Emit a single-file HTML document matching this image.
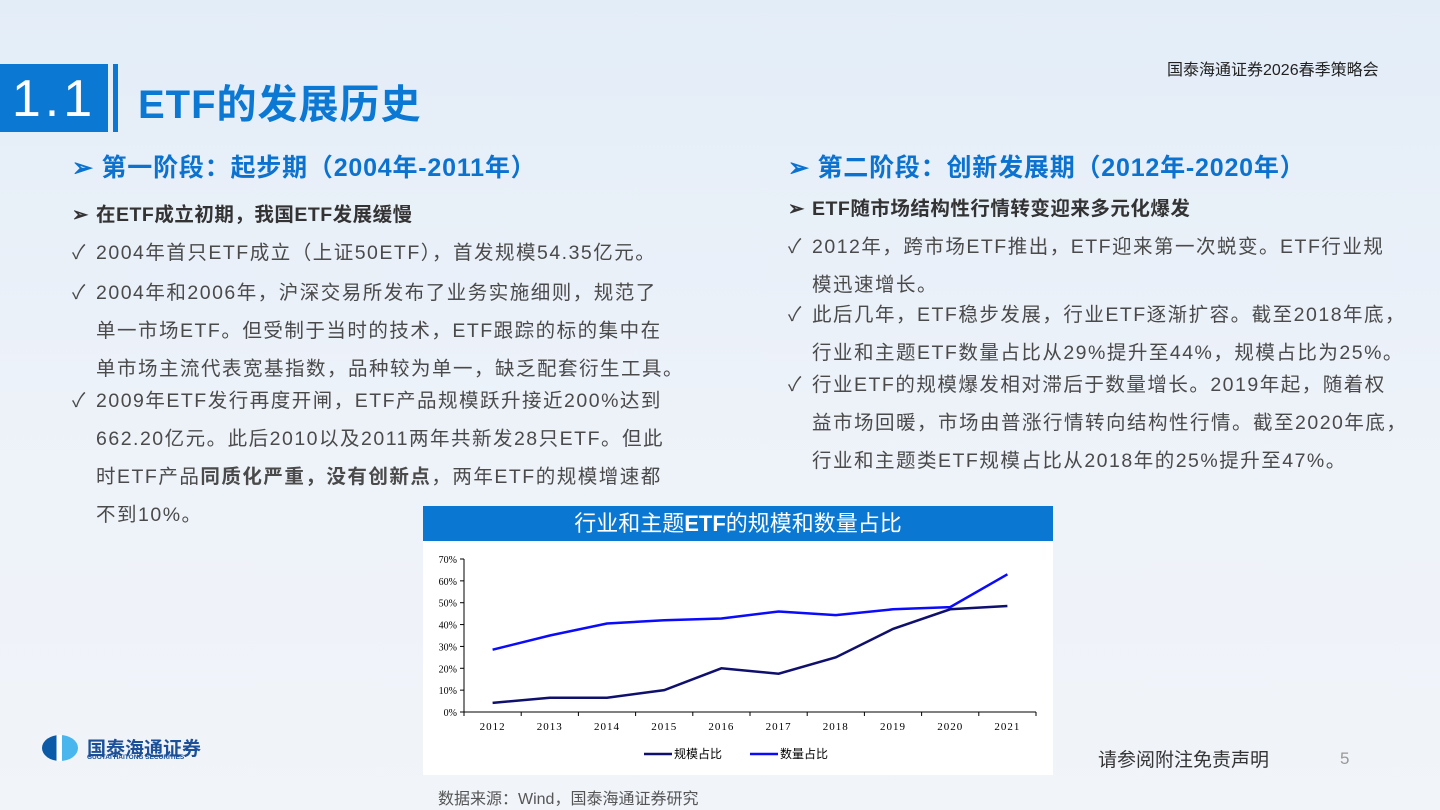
<!DOCTYPE html>
<html><head><meta charset="utf-8">
<style>
body{margin:0;width:1440px;height:810px;overflow:hidden;background:linear-gradient(180deg,#e3edf8 0%,#edf2f9 50%,#f1f4f9 100%);font-family:"Liberation Sans","Noto Sans CJK SC",sans-serif;position:relative;}
.a{position:absolute;white-space:nowrap;}
.t{font-size:19.5px;color:#4a4a4a;letter-spacing:1.5px;}
.b{font-weight:bold;color:#333;letter-spacing:0.5px;}
.h{font-size:25px;font-weight:bold;color:#0b72d0;letter-spacing:0.8px;}
.i{display:inline-block;width:24px;letter-spacing:0}
</style></head><body>
<div class="a" style="left:1167px;top:56px;font-size:16px;color:#222">国泰海通证券2026春季策略会</div>
<div class="a" style="left:0;top:64px;width:108px;height:68px;background:#0b78d4;color:#fff;font-size:52px;line-height:70px;text-align:center;letter-spacing:4px">1.1</div>
<div class="a" style="left:113px;top:64px;width:5px;height:68px;background:#0b78d4"></div>
<div class="a" style="left:138px;top:72px;font-size:40px;font-weight:bold;color:#0b78d4;letter-spacing:1px">ETF的发展历史</div>

<div class="a h" style="left:72px;top:148px">➢ 第一阶段：起步期（2004年-2011年）</div>
<div class="a t b" style="left:72px;top:198px"><span class="i">➢</span>在ETF成立初期，我国ETF发展缓慢</div>
<div class="a t" style="left:72px;top:236px"><span class="i">✓</span>2004年首只ETF成立（上证50ETF），首发规模54.35亿元。</div>
<div class="a t" style="left:72px;top:274px;line-height:38px"><span class="i">✓</span>2004年和2006年，沪深交易所发布了业务实施细则，规范了<br><span class="i"></span>单一市场ETF。但受制于当时的技术，ETF跟踪的标的集中在<br><span class="i"></span>单市场主流代表宽基指数，品种较为单一，缺乏配套衍生工具。</div>
<div class="a t" style="left:72px;top:382px;line-height:38px"><span class="i">✓</span>2009年ETF发行再度开闸，ETF产品规模跃升接近200%达到<br><span class="i"></span>662.20亿元。此后2010以及2011两年共新发28只ETF。但此<br><span class="i"></span>时ETF产品<b>同质化严重，没有创新点</b>，两年ETF的规模增速都<br><span class="i"></span>不到10%。</div>

<div class="a h" style="left:788px;top:148px">➢ 第二阶段：创新发展期（2012年-2020年）</div>
<div class="a t b" style="left:788px;top:192px"><span class="i">➢</span>ETF随市场结构性行情转变迎来多元化爆发</div>
<div class="a t" style="left:788px;top:228px;line-height:38px"><span class="i">✓</span>2012年，跨市场ETF推出，ETF迎来第一次蜕变。ETF行业规<br><span class="i"></span>模迅速增长。</div>
<div class="a t" style="left:788px;top:296px;line-height:38px"><span class="i">✓</span>此后几年，ETF稳步发展，行业ETF逐渐扩容。截至2018年底，<br><span class="i"></span>行业和主题ETF数量占比从29%提升至44%，规模占比为25%。</div>
<div class="a t" style="left:788px;top:366px;line-height:38px"><span class="i">✓</span>行业ETF的规模爆发相对滞后于数量增长。2019年起，随着权<br><span class="i"></span>益市场回暖，市场由普涨行情转向结构性行情。截至2020年底，<br><span class="i"></span>行业和主题类ETF规模占比从2018年的25%提升至47%。</div>

<div class="a" style="left:423px;top:506px;width:630px;height:35px;background:#0a78d2;color:#fff;font-size:22px;line-height:35px;text-align:center">行业和主题<b>ETF</b>的规模和数量占比</div>
<div class="a" style="left:423px;top:541px;width:630px;height:234px;background:#fff"></div>
<svg class="a" style="left:0;top:0" width="1440" height="810" id="ch"></svg>
<div class="a" style="left:438px;top:785px;font-size:16px;color:#555">数据来源：Wind，国泰海通证券研究</div>

<div class="a" style="left:42px;top:735px;width:36px;height:26px;border-radius:50%;background:linear-gradient(90deg,#0a5aa8 0 40%,#fff 40% 55%,#4ab6ee 55%)"></div>
<div class="a" style="left:87px;top:734px;font-size:19px;font-weight:bold;color:#1b4f98">国泰海通证券</div>
<div class="a" style="left:87px;top:754px;font-size:6.5px;font-weight:bold;color:#1b4f98">GUOTAI HAITONG SECURITIES</div>
<div class="a" style="left:1098px;top:745px;font-size:19px;color:#333">请参阅附注免责声明</div>
<div class="a" style="left:1340px;top:749px;font-size:17px;color:#999">5</div>

<script>
const categories=["2012","2013","2014","2015","2016","2017","2018","2019","2020","2021"];
const scaleShare=[4.2,6.5,6.5,10,20,17.5,25,38,47,48.5];
const countShare=[28.5,35,40.5,42,42.8,46,44.3,47,48,63];
const yTicks=[0,10,20,30,40,50,60,70];
const svg=document.getElementById('ch');
const NS='http://www.w3.org/2000/svg';
const x0=464,x1=1036,y0=712,y70=559;
const band=(x1-x0)/categories.length;
const X=i=>x0+band*(i+0.5);
const Y=v=>y0-(v/70)*(y0-y70);
function mk(t,a){const e=document.createElementNS(NS,t);for(const k in a)e.setAttribute(k,a[k]);svg.appendChild(e);return e;}
let e=mk('line',{x1:x0,y1:y70,x2:x0,y2:y0,stroke:'#000','stroke-width':1});

e=mk('line',{x1:x0,y1:y0,x2:x1,y2:y0,stroke:'#000','stroke-width':1});

yTicks.forEach(v=>{
 mk('line',{x1:x0-4,y1:Y(v),x2:x0,y2:Y(v),stroke:'#000'});
 const t=mk('text',{x:x0-7,y:Y(v)+4,'text-anchor':'end','font-size':10,'font-family':'Liberation Serif, serif',fill:'#000'});
 t.textContent=v+'%';
 
 
});
for(let i=0;i<=categories.length;i++){mk('line',{x1:x0+band*i,y1:y0,x2:x0+band*i,y2:y0+4,stroke:'#000'});}
categories.forEach((c,i)=>{
 const t=mk('text',{x:X(i),y:y0+18,'text-anchor':'middle','font-size':11,'font-family':'Liberation Serif, serif',fill:'#000','letter-spacing':1});
 t.textContent=c;
 
 
});
function line(vals,col,name){
 const p=mk('polyline',{points:vals.map((v,i)=>X(i)+','+Y(v)).join(' '),fill:'none',stroke:col,'stroke-width':2.5});
 
 
}
line(scaleShare,'#0f0f6e','series-scale-share');
line(countShare,'#0a0aff','series-count-share');
function leg(x,col,label,name){
 const l=mk('line',{x1:x,y1:754,x2:x+28,y2:754,stroke:col,'stroke-width':2.5});
 
 
 const t=mk('text',{x:x+30,y:758,'font-size':12,fill:'#000'});
 t.textContent=label;
 
 
}
leg(644,'#0f0f6e','规模占比','legend-scale-share');
leg(750,'#0a0aff','数量占比','legend-count-share');
</script>
</body></html>
